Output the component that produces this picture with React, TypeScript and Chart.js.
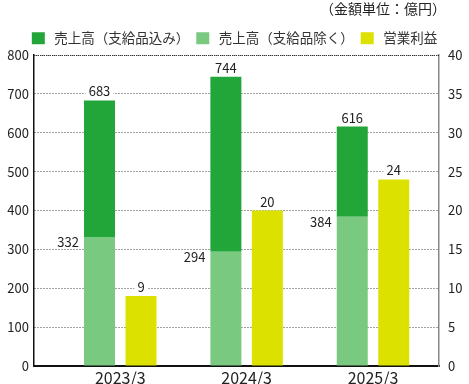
import React, { useEffect, useRef } from 'react';
import { Chart, registerables } from 'chart.js';

Chart.register(...registerables);

const categories = ['2023/3', '2024/3', '2025/3'];
const salesIncl = [683, 744, 616];
const salesExcl = [332, 294, 384];
const opProfit = [9, 20, 24];
const seriesNames = ['売上高（支給品込み）', '売上高（支給品除く）', '営業利益'];
const unitNote = '（金額単位：億円）';

const FONT = '"Noto Sans CJK JP", "Noto Sans", sans-serif';
const DARK = '#22a63a';
const LIGHT = '#7ac980';
const YELLOW = '#dde100';

const valueLabels = {
  id: 'valueLabels',
  beforeDatasetsDraw(chart: any) {
    const { ctx, chartArea } = chart;
    ctx.save();
    ctx.strokeStyle = '#333';
    ctx.lineWidth = 1;
    ctx.setLineDash([1, 1]);
    ctx.beginPath();
    ctx.moveTo(chartArea.left, Math.round(chartArea.top) + 0.5);
    ctx.lineTo(chartArea.right, Math.round(chartArea.top) + 0.5);
    ctx.stroke();
    ctx.restore();
  },
  afterDatasetsDraw(chart: any) {
    const ctx = chart.ctx;
    const mExcl = chart.getDatasetMeta(0);
    const mIncl = chart.getDatasetMeta(1);
    const mProf = chart.getDatasetMeta(2);
    ctx.save();
    ctx.font = `13px ${FONT}`;
    ctx.textBaseline = 'alphabetic';
    const draw = (text: string, x: number, y: number, align: 'center' | 'right') => {
      const w = ctx.measureText(text).width;
      const left = align === 'center' ? x - w / 2 : x - w;
      ctx.fillStyle = '#fff';
      ctx.fillRect(left - 3, y - 11, w + 6, 13);
      ctx.fillStyle = '#222';
      ctx.textAlign = align;
      ctx.fillText(text, x, y);
    };
    categories.forEach((_, i) => {
      const bi = mIncl.data[i].getProps(['x', 'y', 'width'], true);
      draw(String(salesIncl[i]), bi.x, bi.y - 4, 'center');
      const be = mExcl.data[i].getProps(['x', 'y', 'width'], true);
      draw(String(salesExcl[i]), be.x - be.width / 2 - 5, be.y + 10, 'right');
      const bp = mProf.data[i].getProps(['x', 'y', 'width'], true);
      draw(String(opProfit[i]), bp.x, bp.y - 4, 'center');
    });
    ctx.restore();
  },
};

const unitNotePlugin = {
  id: 'unitNote',
  afterDraw(chart: any) {
    const ctx = chart.ctx;
    ctx.save();
    ctx.font = `14px ${FONT}`;
    ctx.fillStyle = '#222';
    ctx.textAlign = 'right';
    ctx.textBaseline = 'middle';
    ctx.fillText(unitNote, chart.chartArea.right + 7, 9);
    ctx.restore();
  },
};

export default function App() {
  const ref = useRef<HTMLCanvasElement | null>(null);
  useEffect(() => {
    if (!ref.current) return;
    const legendRank = [1, 0, 2];
    const chart = new Chart(ref.current, {
      type: 'bar',
      data: {
        datasets: [
          {
            label: seriesNames[1],
            data: categories.map((_, i) => ({ x: i, y: salesExcl[i] })),
            backgroundColor: LIGHT,
            borderWidth: 0,
            stack: 'sales',
            yAxisID: 'y',
          },
          {
            label: seriesNames[0],
            data: categories.map((_, i) => ({ x: i, y: salesIncl[i] - salesExcl[i] })),
            backgroundColor: DARK,
            borderWidth: 0,
            stack: 'sales',
            yAxisID: 'y',
          },
          {
            label: seriesNames[2],
            data: categories.map((_, i) => ({ x: i, y: opProfit[i] })),
            backgroundColor: YELLOW,
            borderWidth: 0,
            stack: 'profit',
            yAxisID: 'y1',
          },
        ],
      },
      options: {
        responsive: true,
        maintainAspectRatio: false,
        animation: false,
        events: [],
        categoryPercentage: 0.6566,
        barPercentage: 0.747,
        layout: { padding: { top: 18, left: 0, right: 0, bottom: 0 } },
        plugins: {
          tooltip: { enabled: false },
          legend: {
            display: true,
            position: 'top',
            align: 'center',
            labels: {
              boxWidth: 13,
              boxHeight: 12,
              padding: 7,
              color: '#333',
              font: { family: FONT, size: 13.5 },
              sort: (a: any, b: any) => legendRank[a.datasetIndex] - legendRank[b.datasetIndex],
              generateLabels: (chart: any) => {
                const items = Chart.defaults.plugins.legend.labels.generateLabels(chart);
                return items.map((it: any) => ({ ...it, text: '\u2009' + it.text }));
              },
            },
          },
        },
        scales: {
          x: {
            type: 'linear',
            min: -0.6825,
            max: 2.5222,
            offset: false,
            grid: { display: false, drawTicks: false },
            border: { display: true, color: '#111', width: 2 },
            afterBuildTicks: (s: any) => {
              s.ticks = categories.map((_, i) => ({ value: i }));
            },
            afterFit: (s: any) => {
              s.height = 18;
            },
            ticks: {
              autoSkip: false,
              maxRotation: 0,
              padding: 2,
              color: '#222',
              font: { family: FONT, size: 16 },
              callback: (v: any) => categories[v] ?? '',
            },
          },
          y: {
            type: 'linear',
            position: 'left',
            stacked: true,
            min: 0,
            max: 800,
            grid: { color: '#444', lineWidth: 1, drawTicks: false },
            border: { display: true, color: '#111', width: 1.5, dash: [1, 2] },
            afterFit: (s: any) => {
              s.width = 34;
              s.paddingTop = 55;
            },
            ticks: {
              stepSize: 100,
              padding: 5,
              color: '#222',
              font: { family: FONT, size: 13 },
            },
          },
          y1: {
            type: 'linear',
            position: 'right',
            min: 0,
            max: 40,
            grid: { drawOnChartArea: false, drawTicks: false },
            border: { display: true, color: '#888', width: 1.5 },
            afterFit: (s: any) => {
              s.width = 30;
            },
            ticks: {
              stepSize: 5,
              padding: 9,
              color: '#222',
              font: { family: FONT, size: 13 },
            },
          },
        },
      } as any,
      plugins: [valueLabels, unitNotePlugin],
    });
    return () => chart.destroy();
  }, []);
  return (
    <div style={{ position: 'absolute', left: 0, top: 0, width: 469, height: 384 }}>
      <canvas ref={ref} />
    </div>
  );
}
